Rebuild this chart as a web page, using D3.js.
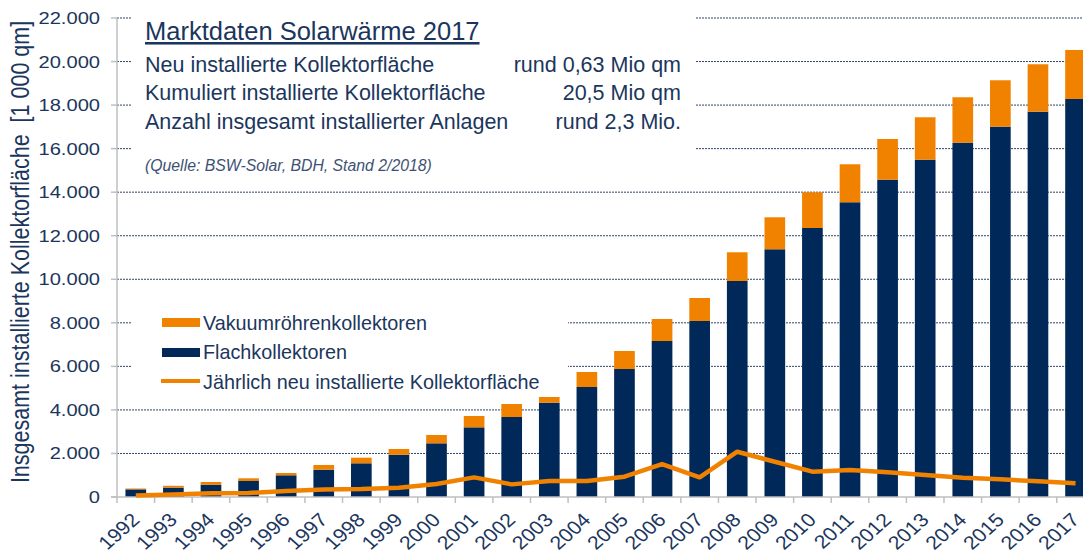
<!DOCTYPE html>
<html>
<head>
<meta charset="utf-8">
<script src="https://cdn.jsdelivr.net/npm/d3@7"></script>
<style>
  body { margin: 0; background: #fff; }
  text { font-family: "Liberation Sans", Arial, sans-serif; }
</style>
</head>
<body>
<script>
// Marktdaten Solarwaerme 2017 - kumulierte Kollektorflaeche (1 000 qm)
var years = ["1992","1993","1994","1995","1996","1997","1998","1999","2000","2001","2002","2003","2004",
             "2005","2006","2007","2008","2009","2010","2011","2012","2013","2014","2015","2016","2017"];
var flach = [350, 430, 565, 735, 997, 1254, 1548, 1943, 2466, 3200, 3674, 4331, 5052,
             5879, 7165, 8084, 9922, 11378, 12356, 13537, 14575, 15493, 16275, 17010, 17698, 18282];
var vakuum = [40, 85, 124, 124, 105, 216, 257, 262, 382, 520, 598, 262, 689,
              827, 1011, 1056, 1318, 1469, 1639, 1745, 1869, 1948, 2085, 2130, 2177, 2250];
var jaehrlich = [70, 120, 170, 185, 275, 350, 365, 430, 600, 900, 580, 735, 735,
                 935, 1515, 905, 2080, 1620, 1165, 1240, 1135, 1010, 885, 810, 720, 630];
var yTicks = [0, 2000, 4000, 6000, 8000, 10000, 12000, 14000, 16000, 18000, 20000, 22000];

var infoLabels = ["Neu installierte Kollektorfläche", "Kumuliert installierte Kollektorfläche", "Anzahl insgesamt installierter Anlagen"];
var infoValues = ["rund 0,63 Mio qm", "20,5 Mio qm", "rund 2,3 Mio."];

var navy = "#00295a", orange = "#f08200", textCol = "#1b365d", grey = "#bfbfbf";

var W = 1083, H = 554;
var svg = d3.select("body").append("svg").attr("width", W).attr("height", H);

var x = d3.scaleBand().domain(years).range([117, 117 + 26 * 37.59])
    .paddingInner(0.45).paddingOuter(0.225);
var y = d3.scaleLinear().domain([0, 22000]).range([497, 18]);

var de = d3.formatLocale({decimal: ",", thousands: ".", grouping: [3], currency: ["", " €"]});
var fmt = de.format(",.0f");

// gridlines
svg.append("g").selectAll("line").data(yTicks.slice(1)).enter().append("line")
  .attr("x1", 117).attr("x2", W)
  .attr("y1", function(d) { return y(d); }).attr("y2", function(d) { return y(d); })
  .attr("stroke", "#2e4468").attr("stroke-width", 1).attr("stroke-dasharray", "2,1");

// white boxes behind the text blocks hide the grid
svg.append("rect").attr("x", 131).attr("y", 0).attr("width", 564).attr("height", 185).attr("fill", "#fff");
svg.append("rect").attr("x", 131).attr("y", 303).attr("width", 437).attr("height", 93).attr("fill", "#fff");

// stacked bars
svg.append("g").selectAll("rect").data(years).enter().append("rect")
  .attr("x", function(d) { return x(d); })
  .attr("width", x.bandwidth())
  .attr("y", function(d, i) { return y(flach[i]); })
  .attr("height", function(d, i) { return y(0) - y(flach[i]); })
  .attr("fill", navy);

svg.append("g").selectAll("rect").data(years).enter().append("rect")
  .attr("x", function(d) { return x(d); })
  .attr("width", x.bandwidth())
  .attr("y", function(d, i) { return y(flach[i] + vakuum[i]); })
  .attr("height", function(d, i) { return y(flach[i]) - y(flach[i] + vakuum[i]); })
  .attr("fill", orange);

// axes
svg.append("line").attr("x1", 117).attr("x2", 117).attr("y1", y(22000)).attr("y2", y(0))
  .attr("stroke", grey).attr("stroke-width", 1.5);
svg.append("line").attr("x1", 111).attr("x2", W).attr("y1", y(0)).attr("y2", y(0))
  .attr("stroke", grey).attr("stroke-width", 1.5);

svg.append("g").selectAll("line").data(yTicks).enter().append("line")
  .attr("x1", 111).attr("x2", 117)
  .attr("y1", function(d) { return y(d); }).attr("y2", function(d) { return y(d); })
  .attr("stroke", grey).attr("stroke-width", 1.5);

var gap = (x.step() - x.bandwidth()) / 2;
svg.append("g").selectAll("line").data(years).enter().append("line")
  .attr("x1", function(d) { return x(d) - gap; }).attr("x2", function(d) { return x(d) - gap; })
  .attr("y1", y(0)).attr("y2", y(0) + 6)
  .attr("stroke", grey).attr("stroke-width", 1.5);

// annual line
var line = d3.line()
  .x(function(d, i) { return x(years[i]) + x.bandwidth() / 2; })
  .y(function(d) { return y(d); });
svg.append("path").datum(jaehrlich).attr("d", line)
  .attr("fill", "none").attr("stroke", orange).attr("stroke-width", 4.5)
  .attr("stroke-linejoin", "round");

// y tick labels
svg.append("g").selectAll("text").data(yTicks).enter().append("text")
  .attr("transform", function(d) { return "translate(100," + (y(d) + 6) + ") scale(1.22,1)"; })
  .attr("text-anchor", "end").attr("font-size", 16.5).attr("fill", textCol)
  .text(function(d) { return fmt(d); });

// x tick labels
svg.append("g").selectAll("text").data(years).enter().append("text")
  .attr("transform", function(d) { return "translate(" + (x(d) + x.bandwidth() / 2 + 5) + ",521) scale(1.12,1) rotate(-45)"; })
  .attr("text-anchor", "end").attr("font-size", 19).attr("fill", textCol)
  .text(function(d) { return d; });

// y axis title
svg.append("text")
  .attr("transform", "translate(29,252) scale(1.2,1) rotate(-90)")
  .attr("text-anchor", "middle").attr("font-size", 21.5).attr("fill", textCol)
  .text("Insgesamt installierte Kollektorfläche\u00a0\u00a0[1 000 qm]");

// info block
svg.append("text").attr("x", 145).attr("y", 40).attr("font-size", 25.5).attr("fill", textCol)
  .attr("text-decoration", "underline")
  .text("Marktdaten Solarwärme 2017");
svg.append("g").selectAll("text").data(infoLabels).enter().append("text")
  .attr("x", 145).attr("y", function(d, i) { return 71.5 + i * 28.5; })
  .attr("font-size", 21.5).attr("fill", textCol).text(function(d) { return d; });
svg.append("g").selectAll("text").data(infoValues).enter().append("text")
  .attr("x", 681).attr("y", function(d, i) { return 71.5 + i * 28.5; })
  .attr("text-anchor", "end").attr("font-size", 21.5).attr("fill", textCol).text(function(d) { return d; });
svg.append("text").attr("x", 145).attr("y", 171).attr("font-size", 15.8)
  .attr("font-style", "italic").attr("fill", "#3d5273")
  .text("(Quelle: BSW-Solar, BDH, Stand 2/2018)");

// legend
var legend = svg.append("g");
legend.append("rect").attr("x", 162).attr("y", 318).attr("width", 38).attr("height", 9).attr("fill", orange);
legend.append("rect").attr("x", 162).attr("y", 348).attr("width", 38).attr("height", 9).attr("fill", navy);
legend.append("line").attr("x1", 161).attr("x2", 200).attr("y1", 381).attr("y2", 381)
  .attr("stroke", orange).attr("stroke-width", 4);
legend.selectAll("text")
  .data(["Vakuumröhrenkollektoren", "Flachkollektoren", "Jährlich neu installierte Kollektorfläche"])
  .enter().append("text")
  .attr("x", 203).attr("y", function(d, i) { return 329.5 + i * 29.5; })
  .attr("font-size", 19.8).attr("fill", textCol).text(function(d) { return d; });
</script>
</body>
</html>
